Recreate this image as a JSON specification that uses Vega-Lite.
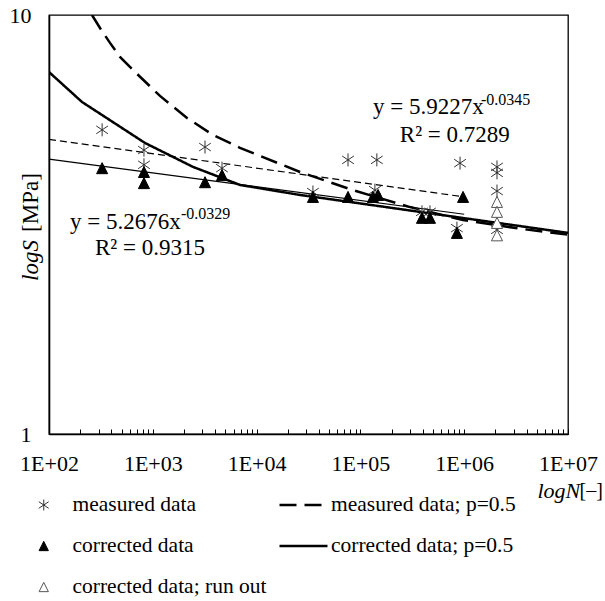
{
  "$schema": "https://vega.github.io/schema/vega-lite/v6.json",
  "width": 519,
  "height": 419,
  "autosize": {"type": "none"},
  "padding": {"left": 49, "top": 15, "right": 37, "bottom": 167},
  "background": "white",
  "config": {
    "font": "Liberation Serif",
    "view": {"stroke": "#000", "strokeWidth": 1.3},
    "axis": {"grid": false}
  },
  "datasets": {
    "points": [
      {"N": 325, "S": 5.32, "type": "measured data"},
      {"N": 822, "S": 4.76, "type": "measured data"},
      {"N": 822, "S": 4.39, "type": "measured data"},
      {"N": 3184, "S": 4.84, "type": "measured data"},
      {"N": 4642, "S": 4.31, "type": "measured data"},
      {"N": 34900, "S": 3.78, "type": "measured data"},
      {"N": 76000, "S": 4.51, "type": "measured data"},
      {"N": 144000, "S": 4.51, "type": "measured data"},
      {"N": 138000, "S": 3.82, "type": "measured data"},
      {"N": 392000, "S": 3.39, "type": "measured data"},
      {"N": 468000, "S": 3.39, "type": "measured data"},
      {"N": 851000, "S": 3.10, "type": "measured data"},
      {"N": 912000, "S": 4.43, "type": "measured data"},
      {"N": 2070000, "S": 4.34, "type": "measured data"},
      {"N": 2070000, "S": 4.2, "type": "measured data"},
      {"N": 2070000, "S": 3.8, "type": "measured data"},
      {"N": 2070000, "S": 3.07, "type": "measured data"},
      {"N": 325, "S": 4.31, "type": "corrected data"},
      {"N": 822, "S": 4.22, "type": "corrected data"},
      {"N": 822, "S": 3.97, "type": "corrected data"},
      {"N": 3184, "S": 3.99, "type": "corrected data"},
      {"N": 4642, "S": 4.15, "type": "corrected data"},
      {"N": 34900, "S": 3.68, "type": "corrected data"},
      {"N": 76000, "S": 3.68, "type": "corrected data"},
      {"N": 132000, "S": 3.68, "type": "corrected data"},
      {"N": 148000, "S": 3.72, "type": "corrected data"},
      {"N": 392000, "S": 3.28, "type": "corrected data"},
      {"N": 468000, "S": 3.28, "type": "corrected data"},
      {"N": 851000, "S": 3.02, "type": "corrected data"},
      {"N": 975000, "S": 3.68, "type": "corrected data"},
      {"N": 2070000, "S": 3.58, "type": "corrected data; run out"},
      {"N": 2070000, "S": 3.39, "type": "corrected data; run out"},
      {"N": 2070000, "S": 3.19, "type": "corrected data; run out"},
      {"N": 2070000, "S": 2.98, "type": "corrected data; run out"}
    ],
    "trendM": [
      {"N": 100, "S": 5.05},
      {"N": 1000000, "S": 3.68}
    ],
    "trendC": [
      {"N": 100, "S": 4.53},
      {"N": 1000000, "S": 3.345}
    ],
    "curves": [
      {"N": 259.6, "S": 10, "series": "measured data; p=0.5"},
      {"N": 310, "S": 9.31, "series": "measured data; p=0.5"},
      {"N": 387, "S": 8.58, "series": "measured data; p=0.5"},
      {"N": 483, "S": 7.94, "series": "measured data; p=0.5"},
      {"N": 645, "S": 7.39, "series": "measured data; p=0.5"},
      {"N": 1173, "S": 6.41, "series": "measured data; p=0.5"},
      {"N": 2136, "S": 5.68, "series": "measured data; p=0.5"},
      {"N": 3802, "S": 5.17, "series": "measured data; p=0.5"},
      {"N": 6918, "S": 4.82, "series": "measured data; p=0.5"},
      {"N": 26180, "S": 4.22, "series": "measured data; p=0.5"},
      {"N": 84890, "S": 3.82, "series": "measured data; p=0.5"},
      {"N": 300600, "S": 3.48, "series": "measured data; p=0.5"},
      {"N": 973700, "S": 3.24, "series": "measured data; p=0.5"},
      {"N": 3450000, "S": 3.09, "series": "measured data; p=0.5"},
      {"N": 10000000, "S": 2.99, "series": "measured data; p=0.5"},
      {"N": 100, "S": 7.31, "series": "corrected data; p=0.5"},
      {"N": 208, "S": 6.2, "series": "corrected data; p=0.5"},
      {"N": 387, "S": 5.61, "series": "corrected data; p=0.5"},
      {"N": 841, "S": 4.95, "series": "corrected data; p=0.5"},
      {"N": 2440, "S": 4.34, "series": "corrected data; p=0.5"},
      {"N": 6920, "S": 3.93, "series": "corrected data; p=0.5"},
      {"N": 26200, "S": 3.72, "series": "corrected data; p=0.5"},
      {"N": 100000, "S": 3.55, "series": "corrected data; p=0.5"},
      {"N": 10000000, "S": 3.02, "series": "corrected data; p=0.5"}
    ],
    "labels": [
      {"N": 159, "S": 3.21, "text": "y = 5.2676x", "kind": "main"},
      {"N": 1870, "S": 3.35, "text": "-0.0329", "kind": "sup"},
      {"N": 277, "S": 2.78, "text": "R² = 0.9315", "kind": "main"},
      {"N": 132000, "S": 6.03, "text": "y = 5.9227x", "kind": "main"},
      {"N": 1450000, "S": 6.27, "text": "-0.0345", "kind": "sup"},
      {"N": 240000, "S": 5.17, "text": "R² = 0.7289", "kind": "main"}
    ]
  },
  "layer": [
    {
      "data": {"name": "trendM"},
      "mark": {"type": "line", "color": "#000", "strokeWidth": 1.2, "strokeDash": [7, 4]},
      "encoding": {
        "x": {"field": "N", "type": "quantitative", "scale": {"type": "log", "domain": [100, 10000000], "nice": false}, "axis": null},
        "y": {"field": "S", "type": "quantitative", "scale": {"type": "log", "domain": [1, 10], "nice": false}, "axis": null}
      }
    },
    {
      "data": {"name": "trendC"},
      "mark": {"type": "line", "color": "#000", "strokeWidth": 1.2},
      "encoding": {
        "x": {"field": "N", "type": "quantitative", "scale": {"type": "log", "domain": [100, 10000000], "nice": false}, "axis": null},
        "y": {"field": "S", "type": "quantitative", "scale": {"type": "log", "domain": [1, 10], "nice": false}, "axis": null}
      }
    },
    {
      "data": {"name": "curves"},
      "mark": {"type": "line", "color": "#000", "strokeWidth": 2.5, "clip": true},
      "encoding": {
        "x": {"field": "N", "type": "quantitative", "scale": {"type": "log", "domain": [100, 10000000], "nice": false},
          "axis": {"orient": "bottom", "labels": false, "ticks": false, "domain": false, "title": "[–]", "titleFont": "Liberation Serif", "titleFontSize": 20, "titleFontWeight": "normal", "titleColor": "#000", "titleAlign": "left", "titleBaseline": "middle", "titleX": 530, "titleY": 56}},
        "y": {"field": "S", "type": "quantitative", "scale": {"type": "log", "domain": [1, 10], "nice": false},
          "axis": {"orient": "left", "labels": false, "ticks": false, "domain": false, "title": "[MPa]", "titleFont": "Liberation Serif", "titleFontSize": 23, "titleFontWeight": "normal", "titleColor": "#000", "titleAngle": 270, "titleAlign": "center", "titleBaseline": "middle", "titleX": -19, "titleY": 187}},
        "strokeDash": {
          "field": "series", "type": "nominal",
          "scale": {"domain": ["measured data; p=0.5", "corrected data; p=0.5"], "range": [[17, 8], [1, 0]]},
          "legend": {"title": null, "orient": "none", "legendX": 229, "legendY": 479, "direction": "vertical", "symbolType": "stroke", "symbolSize": 2304, "symbolStrokeWidth": 2.5, "symbolStrokeColor": "#000", "clipHeight": 22, "rowPadding": 19, "labelFont": "Liberation Serif", "labelFontSize": 21.5, "labelColor": "#000", "labelOffset": 2, "labelLimit": 400, "padding": 0}
        }
      }
    },
    {
      "data": {"name": "points"},
      "mark": {"type": "point", "filled": true, "size": 169, "strokeWidth": 1, "opacity": 1},
      "encoding": {
        "x": {"field": "N", "type": "quantitative", "scale": {"type": "log", "domain": [100, 10000000], "nice": false},
          "axis": {"orient": "bottom", "values": [100, 200, 300, 400, 500, 600, 700, 800, 900, 1000, 2000, 3000, 4000, 5000, 6000, 7000, 8000, 9000, 10000, 20000, 30000, 40000, 50000, 60000, 70000, 80000, 90000, 100000, 200000, 300000, 400000, 500000, 600000, 700000, 800000, 900000, 1000000, 2000000, 3000000, 4000000, 5000000, 6000000, 7000000, 8000000, 9000000, 10000000],
            "labelExpr": "abs(log(datum.value)/LN10 - round(log(datum.value)/LN10)) < 0.001 ? '1E+0' + round(log(datum.value)/LN10) : ''",
            "labelOverlap": false, "labelFlush": false, "labelFont": "Liberation Serif", "labelFontSize": 22, "labelColor": "#000", "labelBaseline": "middle", "labelPadding": 34,
            "ticks": true, "tickSize": -5, "tickColor": "#000", "tickWidth": 1,
            "domain": true, "domainColor": "#000", "domainWidth": 1.6,
            "title": "logN", "titleFont": "Liberation Serif", "titleFontSize": 22, "titleFontStyle": "italic", "titleFontWeight": "normal", "titleColor": "#000", "titleAlign": "left", "titleBaseline": "middle", "titleX": 488, "titleY": 56}},
        "y": {"field": "S", "type": "quantitative", "scale": {"type": "log", "domain": [1, 10], "nice": false},
          "axis": {"orient": "left", "values": [1, 10], "format": "d", "ticks": false, "labelPadding": 18, "labelFont": "Liberation Serif", "labelFontSize": 22, "labelColor": "#000", "labelBaseline": "middle",
            "domain": true, "domainColor": "#000", "domainWidth": 1.6,
            "title": "logS", "titleFont": "Liberation Serif", "titleFontSize": 23, "titleFontStyle": "italic", "titleFontWeight": "normal", "titleColor": "#000", "titleAngle": 270, "titleAlign": "center", "titleBaseline": "middle", "titleX": -19, "titleY": 245}},
        "shape": {
          "field": "type", "type": "nominal",
          "scale": {"domain": ["measured data", "corrected data", "corrected data; run out"], "range": ["M-0.9,-0.6L0.9,0.6M-0.9,0.6L0.9,-0.6M0,-1L0,1", "M0,-0.85L0.85,0.85L-0.85,0.85Z", "M0,-0.85L0.85,0.85L-0.85,0.85Z"]},
          "legend": {"title": null, "orient": "none", "legendX": -16, "legendY": 479, "direction": "vertical", "symbolSize": 120, "symbolStrokeWidth": 1, "clipHeight": 22, "rowPadding": 19, "labelFont": "Liberation Serif", "labelFontSize": 21.5, "labelColor": "#000", "labelOffset": 18, "labelLimit": 400, "padding": 0}
        },
        "fill": {
          "field": "type", "type": "nominal",
          "scale": {"domain": ["measured data", "corrected data", "corrected data; run out"], "range": ["transparent", "#000000", "#ffffff"]}
        },
        "stroke": {
          "field": "type", "type": "nominal",
          "scale": {"domain": ["measured data", "corrected data", "corrected data; run out"], "range": ["#333333", "#000000", "#555555"]}
        }
      }
    },
    {
      "data": {"name": "labels"},
      "transform": [{"filter": "datum.kind == 'main'"}],
      "mark": {"type": "text", "align": "left", "baseline": "middle", "font": "Liberation Serif", "fontSize": 23, "color": "#000"},
      "encoding": {
        "x": {"field": "N", "type": "quantitative", "scale": {"type": "log", "domain": [100, 10000000], "nice": false}, "axis": null},
        "y": {"field": "S", "type": "quantitative", "scale": {"type": "log", "domain": [1, 10], "nice": false}, "axis": null},
        "text": {"field": "text"}
      }
    },
    {
      "data": {"name": "labels"},
      "transform": [{"filter": "datum.kind == 'sup'"}],
      "mark": {"type": "text", "align": "left", "baseline": "middle", "font": "Liberation Serif", "fontSize": 16, "color": "#000"},
      "encoding": {
        "x": {"field": "N", "type": "quantitative", "scale": {"type": "log", "domain": [100, 10000000], "nice": false}, "axis": null},
        "y": {"field": "S", "type": "quantitative", "scale": {"type": "log", "domain": [1, 10], "nice": false}, "axis": null},
        "text": {"field": "text"}
      }
    }
  ],
  "resolve": {"axis": {"x": "independent", "y": "independent"}}
}
